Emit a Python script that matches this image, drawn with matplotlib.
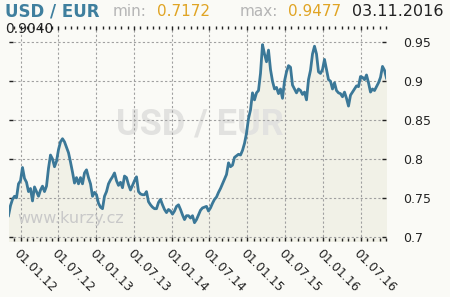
import pandas as pd
import matplotlib
matplotlib.use("Agg")
import matplotlib.pyplot as plt
import matplotlib.dates as mdates


# -------------------------
# DATA (roughly every 10 days)
# -------------------------
usd_eur = [
    0.727, 0.740, 0.748, 0.752, 0.750, 0.768, 0.772, 0.789, 0.775, 0.770,
    0.758, 0.762, 0.746, 0.764, 0.758, 0.752, 0.760, 0.765, 0.758, 0.765,
    0.788, 0.805, 0.800, 0.790, 0.797, 0.812, 0.822, 0.826, 0.822, 0.815,
    0.808, 0.796, 0.783, 0.769, 0.776, 0.768, 0.776, 0.768, 0.782, 0.786,
    0.776, 0.768, 0.752, 0.757, 0.754, 0.743, 0.738, 0.736, 0.752, 0.758,
    0.768, 0.773, 0.777, 0.782, 0.772, 0.766, 0.770, 0.763, 0.778, 0.776,
    0.767, 0.760, 0.766, 0.772, 0.777, 0.758, 0.755, 0.754, 0.754, 0.758,
    0.745, 0.741, 0.738, 0.736, 0.736, 0.744, 0.748, 0.741, 0.735, 0.731,
    0.735, 0.733, 0.729, 0.733, 0.739, 0.741, 0.735, 0.728, 0.722, 0.727,
    0.727, 0.724, 0.727, 0.718, 0.722, 0.728, 0.734, 0.737, 0.738, 0.739,
    0.733, 0.737, 0.743, 0.748, 0.751, 0.757, 0.762, 0.768, 0.774, 0.780,
    0.795, 0.790, 0.792, 0.802, 0.804, 0.806, 0.805, 0.811, 0.820, 0.833,
    0.852, 0.863, 0.885, 0.876, 0.885, 0.888, 0.910, 0.947, 0.935, 0.925,
    0.940, 0.915, 0.900, 0.890, 0.892, 0.884, 0.890, 0.878, 0.900, 0.912,
    0.920, 0.918, 0.895, 0.890, 0.885, 0.890, 0.888, 0.883, 0.886, 0.876,
    0.902, 0.914, 0.935, 0.945, 0.935, 0.912, 0.910, 0.915, 0.928, 0.915,
    0.902, 0.900, 0.890, 0.898, 0.888, 0.885, 0.884, 0.880, 0.886, 0.878,
    0.868, 0.882, 0.886, 0.890, 0.894, 0.893, 0.906, 0.905, 0.902, 0.908,
    0.898, 0.886, 0.890, 0.888, 0.893, 0.898, 0.905, 0.919, 0.914, 0.904,
]
dates = pd.date_range("2011-11-03", "2016-11-03", periods=len(usd_eur))

y_ticks = [0.7, 0.75, 0.8, 0.85, 0.9, 0.95]
y_tick_labels = ["0.7", "0.75", "0.8", "0.85", "0.9", "0.95"]

pair = "USD / EUR"
min_value = "0.7172"
max_value = "0.9477"
last_value = "0.9040"
last_date = "03.11.2016"


# -------------------------
# COLOURS
# -------------------------
BG = "#fafaf6"
FILL = "#f1f1e7"
LINE = "#3b7898"
TITLE = "#3f7f9e"
GOLD = "#e0a424"
GREY = "#b5b5b5"
DARK = "#222222"


# -------------------------
# FIGURE
# -------------------------
W, H = 450, 297
fig = plt.figure(figsize=(W / 100, H / 100), dpi=100, facecolor=BG)

left, right, top, bottom = 8.5, 386.5, 26, 240.5
ax = fig.add_axes([left / W, 1 - bottom / H, (right - left) / W, (bottom - top) / H])
ax.set_facecolor(BG)

ax.fill_between(dates, usd_eur, 0.6, color=FILL, lw=0, zorder=0.5)
ax.plot(dates, usd_eur, color=LINE, lw=2.0, zorder=2)

ax.set_xlim(dates[0], dates[-1])
ax.set_ylim(0.6951, 0.971)

for s in ax.spines.values():
    s.set_visible(False)

# x axis: half-year grid, monthly tick dots
ax.xaxis.set_major_locator(mdates.MonthLocator(bymonth=[1, 7]))
ax.xaxis.set_minor_locator(mdates.MonthLocator())
ax.xaxis.set_major_formatter(mdates.DateFormatter("%d.%m.%y"))
ax.tick_params(axis="x", which="both", direction="in", top=True, bottom=True,
               color=DARK, width=1)
ax.tick_params(axis="x", which="major", length=3, pad=4.5, labelsize=8.8,
               labelcolor=DARK)
ax.tick_params(axis="x", which="minor", length=2)
plt.setp(ax.get_xticklabels(), rotation=-45, ha="left", va="top",
         rotation_mode="anchor")

# y axis: labels on the right
ax.set_yticks(y_ticks)
ax.set_yticklabels(y_tick_labels)
ax.yaxis.tick_right()
ax.tick_params(axis="y", which="major", direction="in", left=True, right=True,
               length=3, width=1, color=DARK, pad=12, labelsize=9,
               labelcolor=DARK)

ax.grid(True, which="major", color="#a0a0a0", lw=0.8, ls=(0, (2, 2)))

# watermarks
ax.text(0.505, 0.54, pair, transform=ax.transAxes, ha="center", va="center",
        fontsize=26, fontweight="bold", color="#e2e2e0",
        family=["Roboto", "DejaVu Sans"], zorder=0.8)
fig.text(17 / W, 1 - 223 / H, "www.kurzy.cz", fontsize=11.5, color="#c9c9c9",
         va="baseline", zorder=0.8)

# header
base = 1 - 16 / H
fig.text(5 / W, base, pair, fontsize=12, fontweight="bold", color=TITLE,
         va="baseline")
fig.text(113 / W, base, "min:", fontsize=11, color=GREY, va="baseline")
fig.text(157 / W, base, min_value, fontsize=11, color=GOLD, va="baseline")
fig.text(240 / W, base, "max:", fontsize=11, color=GREY, va="baseline")
fig.text(288 / W, base, max_value, fontsize=11, color=GOLD, va="baseline")
fig.text(352 / W, base, last_date, fontsize=11.5, color=DARK, va="baseline")
fig.text(5 / W, 1 - 33.3 / H, last_value, fontsize=10, color=DARK,
         va="baseline")

fig.savefig("out.png", dpi=100, facecolor=BG)
